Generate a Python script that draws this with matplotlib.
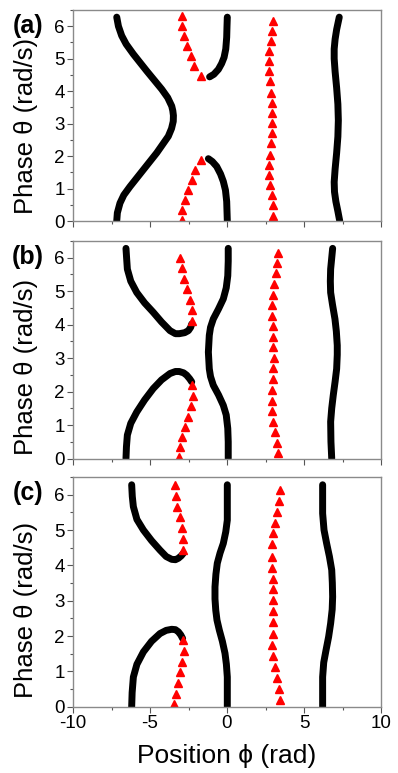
import matplotlib
matplotlib.use('Agg')
import matplotlib.pyplot as plt
from matplotlib.ticker import MultipleLocator

plt.rcParams['font.family'] = ['Liberation Sans', 'DejaVu Sans']

# ---------------- Panel (a) ----------------
a_left_x = [-7.16, -7.12, -6.95, -6.70, -6.30, -5.43, -4.56, -3.81, -3.60, -3.49, -3.48, -3.52, -3.59, -3.85,
            -4.24, -5.21, -6.08, -6.55, -6.84, -7.05, -7.16]
a_left_y = [0.00, 0.25, 0.55, 0.80, 1.06, 1.58, 2.10, 2.61, 2.85, 3.07, 3.25, 3.40, 3.54, 3.80,
            4.06, 4.62, 5.14, 5.45, 5.71, 6.00, 6.28]
a_mid_top_x = [-1.13, -0.85, -0.56, -0.35, -0.19, -0.08, -0.02, 0.00, 0.02]
a_mid_top_y = [4.44, 4.52, 4.67, 4.85, 5.04, 5.30, 5.66, 6.00, 6.28]
a_mid_bot_x = [0.02, 0.00, -0.02, -0.10, -0.24, -0.42, -0.67, -0.95, -1.21]
a_mid_bot_y = [0.00, 0.30, 0.60, 0.95, 1.22, 1.45, 1.68, 1.83, 1.92]
a_right_x = [7.32, 7.20, 7.07, 6.98, 6.96, 7.02, 7.12, 7.20, 7.23, 7.20, 7.12, 7.02, 6.96, 6.96, 7.02, 7.12, 7.29]
a_right_y = [0.00, 0.30, 0.60, 0.90, 1.20, 1.60, 2.10, 2.60, 3.10, 3.60, 4.10, 4.60, 5.00, 5.30, 5.60, 5.90, 6.28]
a_tri_left_x = [-2.94, -2.90, -2.73, -2.51, -2.29, -2.08, -1.69, -1.69, -2.14, -2.36, -2.58, -2.79, -2.90, -2.94]
a_tri_left_y = [0.03, 0.34, 0.65, 0.96, 1.27, 1.58, 1.89, 4.47, 4.78, 5.09, 5.40, 5.71, 6.02, 6.33]
a_tri_mid_x = [3.01, 2.97, 2.90, 2.79, 2.75, 2.75, 2.79, 2.86, 2.90, 2.90, 2.90, 2.90, 2.86, 2.79, 2.75, 2.75, 2.75, 2.86, 2.90, 3.01]
a_tri_mid_y = [0.15, 0.50, 0.80, 1.11, 1.42, 1.73, 2.04, 2.41, 2.71, 3.02, 3.33, 3.64, 3.95, 4.31, 4.62, 4.93, 5.24, 5.55, 5.86, 6.17]

# ---------------- Panel (b) ----------------
b_left_top_x = [-6.56, -6.52, -6.47, -6.25, -5.86, -5.35, -4.79, -4.25, -3.70, -3.35, -3.10, -2.75, -2.51, -2.36, -2.29]
b_left_top_y = [6.28, 6.00, 5.66, 5.30, 4.96, 4.65, 4.37, 4.08, 3.82, 3.73, 3.73, 3.76, 3.82, 3.92, 4.02]
b_left_bot_x = [-6.56, -6.53, -6.47, -6.25, -5.86, -5.35, -4.79, -4.25, -3.70, -3.35, -3.10, -2.82, -2.62, -2.42, -2.29]
b_left_bot_y = [0.00, 0.35, 0.70, 1.05, 1.39, 1.75, 2.09, 2.35, 2.54, 2.60, 2.60, 2.56, 2.49, 2.38, 2.29]
b_mid_x = [0.08, 0.08, 0.05, -0.05, -0.24, -0.55, -0.89, -1.07, -1.15, -1.21, -1.15, -1.07, -0.89, -0.55, -0.24,
           -0.05, 0.05, 0.08, 0.08]
b_mid_y = [0.00, 0.50, 0.90, 1.30, 1.59, 1.90, 2.19, 2.45, 2.68, 3.18, 3.68, 3.92, 4.17, 4.47, 4.77,
           5.10, 5.46, 5.90, 6.28]
b_right_x = [6.80, 6.75, 6.73, 6.80, 6.90, 7.02, 7.12, 7.16, 7.16, 7.10, 7.01, 6.85, 6.73, 6.71, 6.73, 6.86]
b_right_y = [0.00, 0.50, 1.10, 1.50, 1.89, 2.30, 2.68, 3.10, 3.38, 3.80, 4.17, 4.60, 4.96, 5.30, 5.66, 6.28]
b_tri_left_x = [-3.10, -3.05, -2.94, -2.73, -2.51, -2.36, -2.23, -2.29, -2.25, -2.29, -2.40, -2.58, -2.79, -2.94, -3.05]
b_tri_left_y = [0.05, 0.33, 0.65, 0.95, 1.24, 1.56, 1.87, 2.21, 4.12, 4.45, 4.75, 5.06, 5.36, 5.68, 5.98]
b_tri_mid_x = [3.33, 3.27, 3.18, 3.05, 2.96, 2.94, 2.94, 3.01, 3.01, 3.01, 3.05, 3.01, 3.01, 2.94, 2.94, 2.94, 3.01, 3.12, 3.27, 3.33]
b_tri_mid_y = [6.15, 5.84, 5.53, 5.22, 4.90, 4.59, 4.27, 3.95, 3.64, 3.33, 3.01, 2.70, 2.39, 2.04, 1.72, 1.41, 1.10, 0.78, 0.45, 0.15]

# ---------------- Panel (c) ----------------
c_left_top_x = [-6.19, -6.15, -6.08, -5.85, -5.43, -4.90, -4.35, -3.95, -3.59, -3.35, -3.16, -2.97, -2.84]
c_left_top_y = [6.28, 5.95, 5.66, 5.30, 5.00, 4.70, 4.43, 4.25, 4.17, 4.16, 4.20, 4.27, 4.34]
c_left_bot_x = [-6.19, -6.16, -6.08, -5.85, -5.43, -4.90, -4.35, -3.95, -3.59, -3.35, -3.16, -3.00, -2.88]
c_left_bot_y = [0.00, 0.40, 0.84, 1.20, 1.55, 1.85, 2.07, 2.16, 2.19, 2.18, 2.12, 2.03, 1.93]
c_mid_x = [0.02, 0.02, -0.04, -0.13, -0.30, -0.50, -0.65, -0.73, -0.78, -0.78, -0.72, -0.63, -0.45, -0.24,
           -0.08, 0.02, 0.02]
c_mid_y = [0.00, 0.84, 1.20, 1.51, 1.85, 2.17, 2.45, 2.73, 3.05, 3.39, 3.75, 4.06, 4.35, 4.62,
           4.95, 5.28, 6.28]
c_right_x = [6.21, 6.21, 6.28, 6.43, 6.60, 6.73, 6.83, 6.86, 6.84, 6.80, 6.65, 6.47, 6.30, 6.21, 6.21]
c_right_y = [0.00, 0.84, 1.25, 1.60, 1.98, 2.36, 2.75, 3.11, 3.50, 3.87, 4.25, 4.62, 5.00, 5.47, 6.28]
c_tri_left_x = [-3.42, -3.31, -3.20, -3.05, -2.94, -2.79, -2.84, -2.84, -2.84, -2.94, -3.05, -3.23, -3.31, -3.38]
c_tri_left_y = [0.09, 0.37, 0.67, 0.97, 1.27, 1.57, 1.88, 4.43, 4.74, 5.05, 5.36, 5.66, 5.96, 6.27]
c_tri_mid_x = [3.44, 3.38, 3.27, 3.10, 2.99, 2.94, 2.94, 2.94, 2.99, 2.99, 2.99, 2.99, 2.99, 2.97, 2.94, 2.99, 3.10, 3.27, 3.38, 3.44]
c_tri_mid_y = [6.13, 5.82, 5.51, 5.21, 4.91, 4.60, 4.24, 3.93, 3.62, 3.32, 3.02, 2.71, 2.39, 2.07, 1.75, 1.44, 1.13, 0.81, 0.50, 0.18]

panel_labels = ['(a)', '(b)', '(c)']
x_ticks = [-10, -5, 0, 5, 10]
y_ticks = [0, 1, 2, 3, 4, 5, 6]
x_label = 'Position \u03d5 (rad)'
y_label = 'Phase \u03b8 (rad/s)'

panels = [
    dict(curves=[(a_left_x, a_left_y), (a_mid_top_x, a_mid_top_y), (a_mid_bot_x, a_mid_bot_y), (a_right_x, a_right_y)],
         tris=[(a_tri_left_x, a_tri_left_y), (a_tri_mid_x, a_tri_mid_y)]),
    dict(curves=[(b_left_top_x, b_left_top_y), (b_left_bot_x, b_left_bot_y), (b_mid_x, b_mid_y), (b_right_x, b_right_y)],
         tris=[(b_tri_left_x, b_tri_left_y), (b_tri_mid_x, b_tri_mid_y)]),
    dict(curves=[(c_left_top_x, c_left_top_y), (c_left_bot_x, c_left_bot_y), (c_mid_x, c_mid_y), (c_right_x, c_right_y)],
         tris=[(c_tri_left_x, c_tri_left_y), (c_tri_mid_x, c_tri_mid_y)]),
]

W, H = 398, 773
fig = plt.figure(figsize=(W / 100, H / 100), dpi=100)

# axes boxes in pixels: (top, bottom), and y-label centres
boxes = [(10, 221), (241, 458.5), (477, 706.7)]
ylabel_centres = [126, 367, 610]
left_px, right_px = 73, 381
spine_col = '#8a8a8a'

for i, (p, (top, bot)) in enumerate(zip(panels, boxes)):
    ax = fig.add_axes([left_px / W, 1 - bot / H, (right_px - left_px) / W, (bot - top) / H])
    for cx, cy in p['curves']:
        ax.plot(cx, cy, color='black', lw=5.0, solid_capstyle='round', solid_joinstyle='round')
    for tx, ty in p['tris']:
        ax.plot(tx, ty, ls='none', marker='^', ms=5.5, color='#ff0000', mec='#ff0000')
    ax.set_xlim(-10, 10)
    ax.set_ylim(0, 6.5)
    ax.set_xticks(x_ticks)
    ax.set_yticks(y_ticks)
    ax.xaxis.set_minor_locator(MultipleLocator(2.5))
    ax.yaxis.set_minor_locator(MultipleLocator(0.5))
    ax.tick_params(which='both', direction='out', color='#555555', width=0.8,
                   labelsize=13.5, top=False, right=False)
    ax.tick_params(which='major', length=4, pad=2)
    ax.tick_params(which='minor', length=2.5)
    for s in ax.spines.values():
        s.set_color(spine_col)
        s.set_linewidth(1.0)
    if i < 2:
        ax.set_xticklabels([])
    else:
        ax.set_xticklabels([str(t) for t in x_ticks])
    fig.text(26 / W, 1 - ylabel_centres[i] / H, y_label, rotation=90,
             ha='center', va='center', fontsize=18.5)
    fig.text(28 / W, 1 - (top + 16) / H, panel_labels[i], ha='center', va='center',
             fontsize=18, fontweight='bold')

fig.text(227 / W, 1 - 756 / H, x_label, ha='center', va='center', fontsize=19)

fig.savefig('out.png', dpi=100)
